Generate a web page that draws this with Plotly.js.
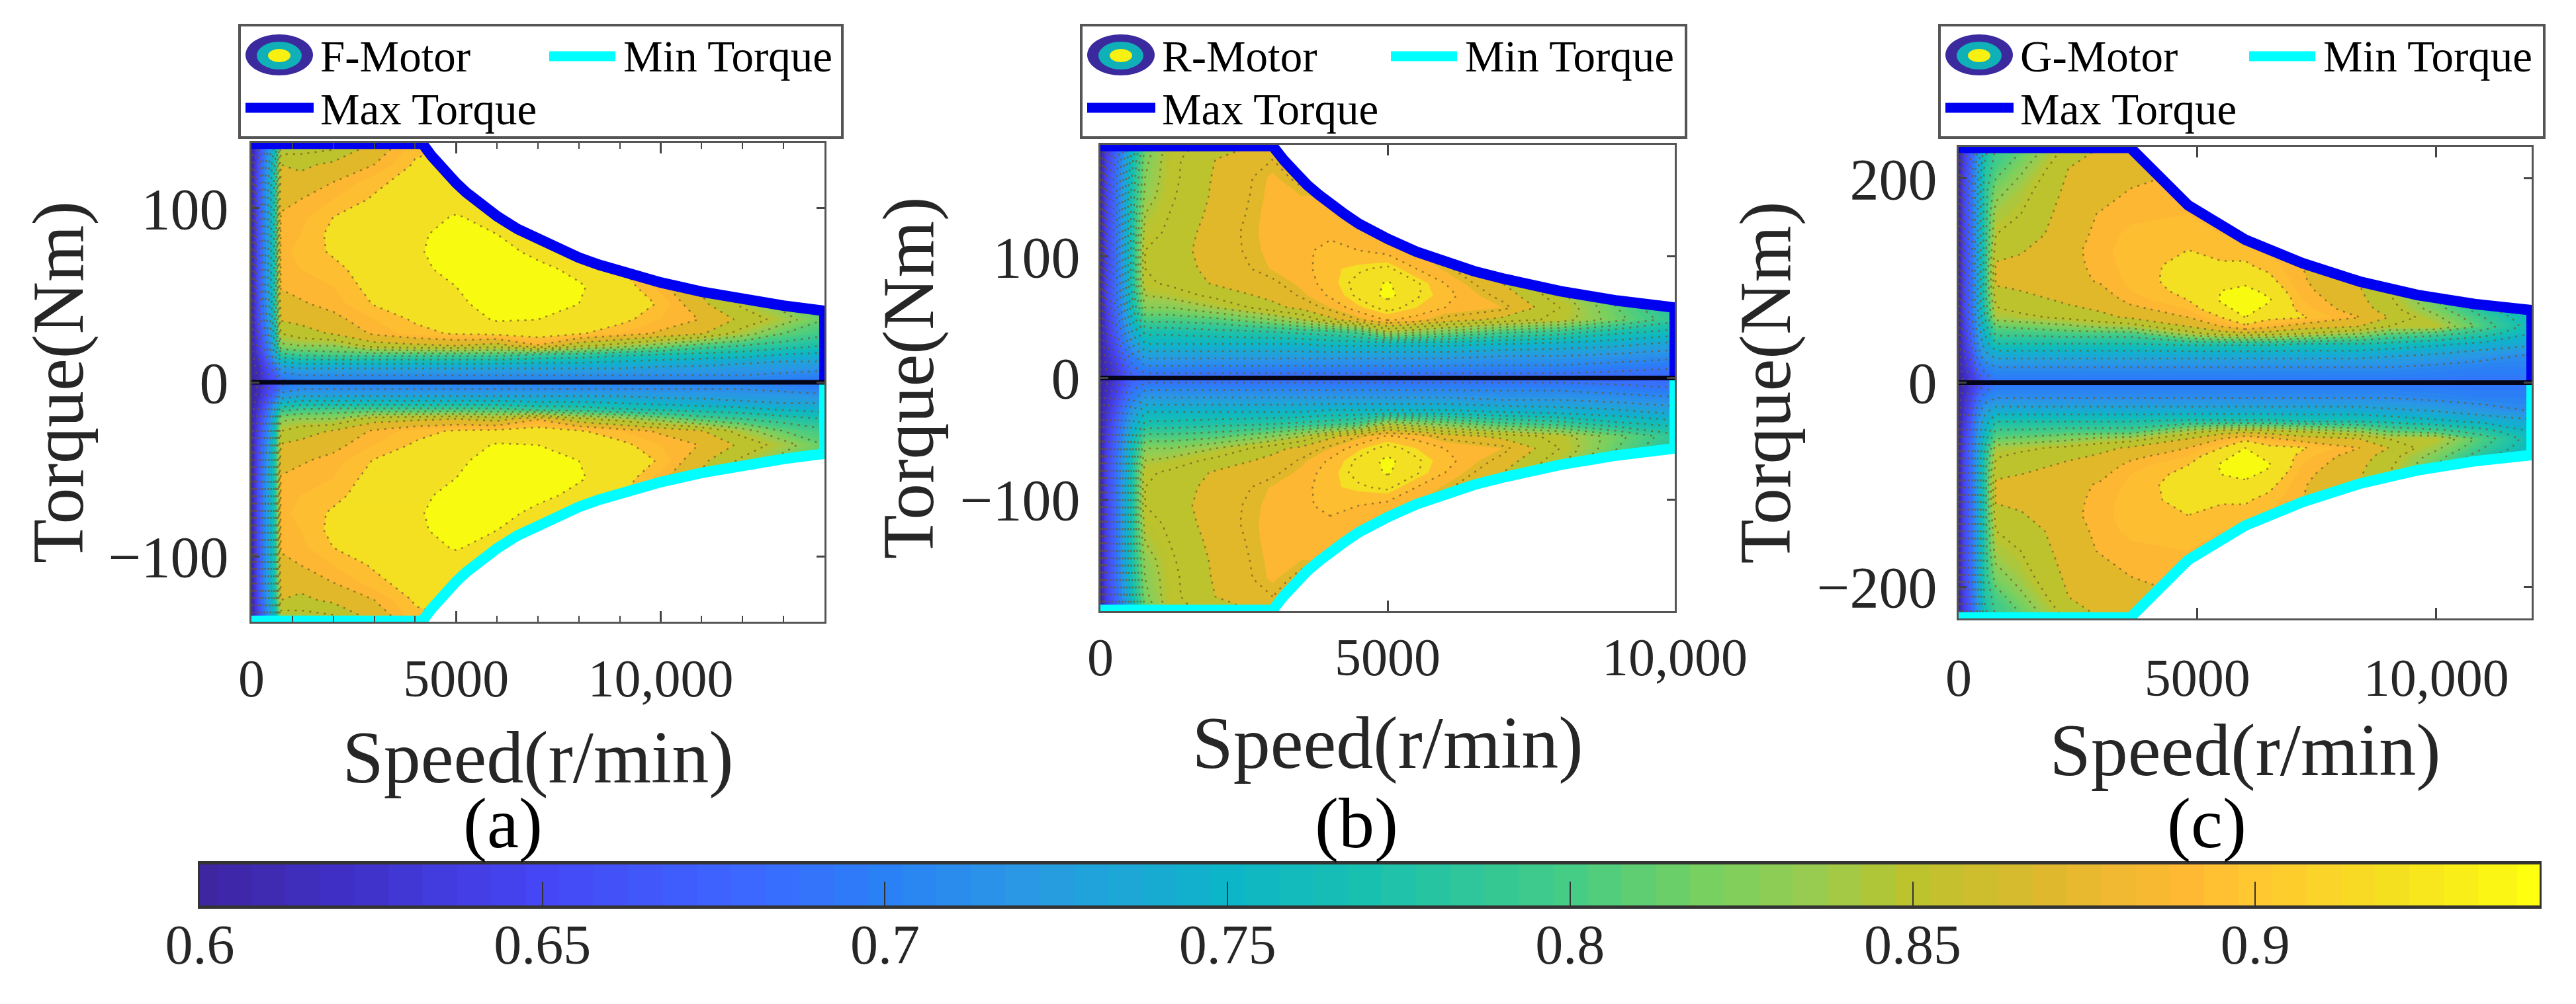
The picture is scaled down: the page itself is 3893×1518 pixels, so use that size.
<!DOCTYPE html>
<html><head><meta charset="utf-8">
<script src="https://cdn.plot.ly/plotly-3.0.1.min.js"></script>
<style>html,body{margin:0;padding:0;background:#fff}</style></head>
<body><div id="chart" style="width:3893px;height:1518px"></div>
<script>
// ---------- Panel (a) F-Motor ----------
const speedA=[0,150,300,450,600,720,1200,2000,3000,4000,5000,6000,7000,8000,9000,10000,11000,12000,13000,14000];
const torqueA=[0,4,8,12,16,21,28,36,45,55,65,75,85,95,105,115,125,137];
const effA=[
[.60,.60,.60,.60,.60,.60,.60,.60,.60,.60,.60,.60,.60,.60,.60,.60,.60,.60],
[.61,.612,.615,.62,.63,.635,.64,.65,.65,.655,.655,.655,.655,.655,.655,.655,.65,.64],
[.63,.635,.64,.65,.66,.67,.68,.69,.695,.70,.70,.70,.70,.70,.70,.70,.695,.68],
[.65,.655,.665,.68,.70,.71,.72,.73,.735,.74,.74,.74,.74,.74,.74,.74,.735,.72],
[.66,.67,.69,.72,.74,.76,.77,.78,.785,.785,.785,.785,.785,.785,.785,.785,.78,.76],
[.68,.70,.72,.75,.785,.825,.85,.872,.88,.892,.895,.897,.895,.892,.885,.877,.87,.83],
[.70,.71,.73,.76,.795,.83,.862,.875,.888,.895,.90,.903,.90,.897,.89,.878,.865,.835],
[.70,.71,.73,.76,.80,.83,.872,.885,.895,.90,.906,.912,.914,.91,.90,.89,.875,.84],
[.70,.71,.73,.76,.80,.86,.893,.90,.911,.916,.918,.918,.918,.915,.912,.906,.89,.872],
[.70,.71,.73,.76,.80,.865,.905,.912,.918,.922,.926,.928,.928,.925,.921,.917,.912,.905],
[.70,.71,.73,.76,.80,.87,.912,.92,.925,.93,.935,.937,.934,.931,.924,.92,.915,.91],
[.70,.71,.73,.76,.80,.86,.915,.932,.94,.94,.94,.937,.93,.925,.92,.92,.915,.91],
[.70,.71,.73,.755,.79,.888,.92,.93,.936,.94,.935,.925,.92,.92,.92,.92,.92,.92],
[.70,.71,.73,.755,.785,.855,.912,.922,.93,.932,.925,.92,.915,.915,.915,.915,.915,.915],
[.70,.71,.73,.75,.775,.84,.90,.915,.922,.92,.912,.905,.905,.905,.905,.905,.905,.905],
[.70,.71,.725,.745,.77,.82,.887,.90,.908,.895,.885,.88,.88,.88,.88,.88,.88,.88],
[.70,.71,.725,.74,.765,.80,.872,.889,.875,.865,.86,.86,.86,.86,.86,.86,.86,.86],
[.70,.71,.72,.735,.76,.79,.84,.865,.845,.84,.84,.84,.84,.84,.84,.84,.84,.84],
[.695,.705,.72,.73,.75,.78,.81,.84,.82,.81,.81,.81,.81,.81,.81,.81,.81,.81],
[.69,.70,.715,.73,.745,.77,.795,.81,.80,.80,.80,.80,.80,.80,.80,.80,.80,.80]
];
const maxSpeedA=[0,4180,4400,4600,4800,5000,5250,5500,5750,6000,6500,7000,7500,8000,8500,9000,10000,11000,12000,13000,14000];
const maxTorqueA=[137,137,130,124.5,119,114.5,109,104,99.6,95.4,88,82,76.4,71.6,67.4,63.6,57.3,52,47.7,44,41];

// ---------- Panel (b) R-Motor ----------
const speedB=[0,100,250,400,550,780,1200,2000,3000,3500,4000,4500,5000,5500,6000,7000,8000,9000,10000];
const torqueB=[0,8,18,28,38,48,58,68,78,90,105,120,135,150,165,180,191];
const effB=[
[.60,.60,.60,.60,.60,.60,.60,.60,.60,.60,.60,.60,.60,.60,.60,.60,.60],
[.61,.615,.62,.625,.63,.635,.64,.645,.645,.645,.645,.645,.645,.645,.645,.64,.635],
[.63,.635,.645,.655,.665,.67,.675,.68,.68,.68,.68,.68,.68,.68,.68,.675,.665],
[.65,.66,.675,.69,.70,.71,.715,.72,.72,.725,.725,.725,.725,.725,.72,.715,.70],
[.67,.685,.70,.72,.735,.75,.76,.765,.77,.77,.77,.77,.77,.77,.765,.76,.745],
[.68,.70,.725,.75,.77,.80,.825,.84,.852,.855,.855,.848,.84,.83,.825,.82,.81],
[.68,.70,.725,.75,.77,.80,.825,.845,.858,.862,.862,.858,.855,.852,.85,.85,.848],
[.68,.70,.725,.75,.775,.805,.84,.86,.872,.875,.878,.878,.875,.873,.872,.87,.862],
[.68,.70,.725,.75,.78,.825,.865,.875,.882,.891,.893,.894,.894,.893,.892,.885,.875],
[.68,.70,.725,.75,.785,.84,.875,.887,.893,.895,.897,.897,.895,.89,.88,.87,.86],
[.68,.70,.725,.755,.79,.865,.89,.902,.906,.908,.904,.897,.893,.89,.885,.88,.875],
[.68,.70,.725,.755,.80,.885,.908,.918,.92,.913,.90,.895,.89,.885,.88,.875,.87],
[.68,.70,.725,.755,.84,.902,.92,.935,.932,.918,.895,.89,.885,.88,.875,.87,.865],
[.68,.70,.725,.755,.83,.895,.91,.917,.917,.90,.89,.885,.88,.875,.87,.865,.86],
[.68,.70,.725,.755,.82,.88,.90,.905,.90,.888,.88,.875,.87,.87,.865,.86,.86],
[.68,.70,.72,.75,.80,.865,.89,.88,.87,.865,.865,.86,.86,.855,.855,.85,.85],
[.68,.70,.72,.745,.79,.85,.855,.845,.84,.835,.83,.83,.83,.83,.83,.83,.83],
[.68,.695,.715,.74,.77,.815,.81,.80,.79,.79,.79,.79,.79,.79,.79,.79,.79],
[.68,.69,.71,.73,.76,.785,.775,.77,.77,.77,.77,.77,.77,.77,.77,.77,.77]
];
const maxSpeedB=[0,3000,3200,3400,3600,3800,4000,4250,4500,4750,5000,5500,6000,6500,7000,7500,8000,9000,10000];
const maxTorqueB=[191,191,179,168.5,159,151,143,135,127,120.5,114.6,104,95.5,88,82,76.4,71.6,63.7,58];

// ---------- Panel (c) G-Motor ----------
const speedC=[0,100,250,400,550,780,1300,2300,3000,3600,4800,5500,6000,6500,7200,8400,9000,10000,11000,12000];
const torqueC=[0,15,28,38,48,55,64,72,81,90,100,115,130,145,165,190,210,232];
const effC=[
[.60,.60,.60,.60,.60,.60,.60,.60,.60,.60,.60,.60,.60,.60,.60,.60,.60,.60],
[.61,.62,.625,.63,.635,.64,.64,.645,.645,.645,.645,.645,.645,.645,.645,.645,.64,.635],
[.63,.645,.655,.665,.67,.675,.68,.68,.68,.68,.68,.68,.68,.68,.68,.68,.675,.665],
[.65,.68,.70,.71,.715,.72,.725,.73,.73,.73,.73,.73,.73,.73,.73,.73,.725,.71],
[.67,.70,.725,.74,.75,.76,.77,.775,.78,.78,.78,.78,.78,.78,.78,.78,.775,.76],
[.69,.71,.74,.77,.795,.81,.84,.848,.855,.868,.872,.873,.86,.85,.84,.82,.80,.79],
[.69,.71,.74,.77,.795,.815,.845,.855,.86,.87,.875,.875,.868,.858,.85,.84,.825,.805],
[.69,.71,.74,.77,.80,.825,.855,.865,.875,.88,.885,.885,.885,.882,.88,.875,.87,.855],
[.69,.71,.74,.77,.80,.835,.865,.873,.88,.887,.892,.895,.897,.895,.892,.88,.875,.87],
[.69,.71,.74,.77,.80,.84,.873,.885,.895,.90,.903,.905,.905,.903,.897,.89,.88,.875],
[.69,.71,.74,.775,.84,.87,.89,.90,.91,.915,.917,.914,.91,.905,.90,.895,.89,.885],
[.69,.71,.74,.775,.86,.89,.91,.925,.932,.93,.92,.912,.905,.90,.895,.89,.885,.88],
[.69,.71,.74,.775,.865,.905,.93,.936,.94,.935,.925,.912,.905,.90,.895,.895,.89,.885],
[.69,.71,.74,.775,.86,.895,.915,.925,.932,.925,.915,.905,.90,.895,.895,.89,.89,.885],
[.69,.71,.74,.77,.85,.88,.912,.905,.90,.895,.892,.89,.885,.885,.885,.885,.885,.885],
[.69,.71,.74,.77,.83,.87,.89,.88,.875,.872,.868,.86,.855,.855,.855,.855,.855,.855],
[.69,.71,.735,.765,.81,.85,.87,.86,.855,.85,.84,.83,.83,.83,.83,.83,.83,.83],
[.69,.705,.73,.755,.80,.85,.835,.82,.81,.80,.79,.79,.79,.79,.79,.79,.79,.79],
[.69,.70,.72,.745,.78,.80,.79,.775,.77,.77,.77,.77,.77,.77,.77,.77,.77,.77],
[.69,.70,.71,.735,.75,.76,.755,.75,.75,.75,.75,.75,.75,.75,.75,.75,.75,.75]
];
const maxSpeedC=[0,3600,4800,6000,7200,8400,9600,10800,12000];
const maxTorqueC=[230,230,174,140,117,99,86,77,71];

// ---------- Colour scale ----------
const barLevels=[.60,.62,.65,.68,.70,.72,.75,.77,.80,.82,.835,.85,.87,.89,.90,.92,.9415];
const barColors=['#3d26a0','#3f2fc4','#4546f5','#3c68ff','#2a80f5','#2a98e4','#0db5c8','#18c0b0','#45cc85','#78d060','#98cc50','#bcc32d','#e0b82e','#ffb933','#ffc730','#f5e020','#ffff10'];
const bandEdges=[.85,.87,.89,.90,.91,.93,.9415];
const bandColors=['#bcc32d','#e0b82a','#fdb733','#fdbe32','#f4e022','#f8fa10'];
const barTicks=[.65,.7,.75,.8,.85,.9];
const barTickText=['0.65','0.7','0.75','0.8','0.85','0.9'];
const barValueStart=.6, barValueEnd=.9415;
const barSamples=[.6,.605,.61,.615,.62,.625,.63,.635,.64,.645,.65,.655,.66,.665,.67,.675,.68,.685,.69,.695,.70,.705,.71,.715,.72,.725,.73,.735,.74,.745,.75,.755,.76,.765,.77,.775,.78,.785,.79,.795,.80,.805,.81,.815,.82,.825,.83,.835,.84,.845,.85,.855,.86,.865,.87,.875,.88,.885,.89,.895,.90,.905,.91,.915,.92,.925,.93,.935,.9415];

// ---------- Panels ----------
const W=3893,H=1518;
const X=p=>p/W, Y=p=>1-p/H;
const FONT='"Liberation Serif","Times New Roman",serif';
const norm=v=>(v-barValueStart)/(barValueEnd-barValueStart);
const smoothScale=barLevels.map((v,i)=>[norm(v),barColors[i]]);
const fieldScale=[];
barLevels.forEach((v,i)=>{ if(v<bandEdges[0]) fieldScale.push([norm(v),barColors[i]]); });
bandColors.forEach((c,i)=>{ fieldScale.push([norm(bandEdges[i]),c]); fieldScale.push([norm(bandEdges[i+1]),c]); });

const panels=[
 {id:'',name:'F-Motor',tag:'(a)',speed:speedA,torque:torqueA,eff:effA,maxS:maxSpeedA,maxT:maxTorqueA,
  xr:[0,14000],yr:137.5,dom:[380,1246,216,940],xt:[0,5000,10000],xl:['0','5000','10,000'],yt:[-100,0,100],yl:['\u2212100','0','100'],minor:1000,
  line:{start:.61,end:.93,size:.02},leg:[362,1273],tagX:760,tickGap:14,titleGap:36,yGap:14,yTitleGap:2},
 {id:'2',name:'R-Motor',tag:'(b)',speed:speedB,torque:torqueB,eff:effB,maxS:maxSpeedB,maxT:maxTorqueB,
  xr:[0,10000],yr:192,dom:[1663,2531,219,924],xt:[0,5000,10000],xl:['0','5000','10,000'],yt:[-100,0,100],yl:['\u2212100','0','100'],minor:null,
  line:{start:.60,end:.93,size:.015},leg:[1634,2548],tagX:2050,tickGap:-2,titleGap:46,yGap:10,yTitleGap:4},
 {id:'3',name:'G-Motor',tag:'(c)',speed:speedC,torque:torqueC,eff:effC,maxS:maxSpeedC,maxT:maxTorqueC,
  xr:[0,12000],yr:231,dom:[2960,3826,222,935],xt:[0,5000,10000],xl:['0','5000','10,000'],yt:[-200,0,200],yl:['\u2212200','0','200'],minor:null,
  line:{start:.61,end:.93,size:.02},leg:[2931,3845],tagX:3335,tickGap:18,titleGap:26,yGap:12,yTitleGap:4}
];

const traces=[],layout={width:W,height:H,margin:{l:0,r:0,t:0,b:0},paper_bgcolor:'#fff',plot_bgcolor:'#fff',
  font:{family:FONT,color:'#262626'},showlegend:false,shapes:[],annotations:[],hovermode:false};

panels.forEach(p=>{
  const xa='x'+p.id, ya='y'+p.id;
  const y=[...p.torque.slice(1).map(v=>-v).reverse(),...p.torque];
  const z=p.eff.map(c=>[...c.slice(1).reverse(),...c]);
  const base={x:p.speed,y:y,z:z,transpose:true,xaxis:xa,yaxis:ya,type:'contour',showscale:false,zmin:barValueStart,zmax:barValueEnd,hoverinfo:'skip'};
  traces.push(Object.assign({},base,{name:p.name,colorscale:fieldScale,autocontour:false,
    contours:{coloring:'fill',showlines:false,start:.6,end:.94,size:.005},line:{width:0,smoothing:0}}));
  traces.push(Object.assign({},base,{name:p.name+' contours',autocontour:false,colorscale:[[0,'#6e5a28'],[1,'#6e5a28']],
    contours:{coloring:'lines',start:p.line.start,end:p.line.end,size:p.line.size},line:{width:2.5,dash:'3px,8px',smoothing:0,color:'rgba(100,85,40,0.45)'},opacity:0.7}));
  // white region beyond the torque envelope
  const top=p.yr;
  traces.push({x:[...p.maxS,p.xr[1],0],y:[...p.maxT,top,top],mode:'none',fill:'toself',fillcolor:'#fff',xaxis:xa,yaxis:ya,hoverinfo:'skip',type:'scatter'});
  traces.push({x:[...p.maxS,p.xr[1],0],y:[...p.maxT.map(v=>-v),-top,-top],mode:'none',fill:'toself',fillcolor:'#fff',xaxis:xa,yaxis:ya,hoverinfo:'skip',type:'scatter'});
  // envelopes
  traces.push({name:'Min Torque',x:[...p.maxS,p.xr[1]],y:[...p.maxT.map(v=>-v),0],mode:'lines',line:{color:'#00ffff',width:16,shape:'linear'},cliponaxis:false,xaxis:xa,yaxis:ya,type:'scatter',hoverinfo:'skip'});
  traces.push({name:'Max Torque',x:[...p.maxS,p.xr[1]],y:[...p.maxT,0],mode:'lines',line:{color:'#0000f0',width:16,shape:'linear'},cliponaxis:false,xaxis:xa,yaxis:ya,type:'scatter',hoverinfo:'skip'});
  traces.push({name:'zero',x:[0,p.xr[1]],y:[0,0],mode:'lines',line:{color:'#05051a',width:7},cliponaxis:false,xaxis:xa,yaxis:ya,type:'scatter',hoverinfo:'skip'});

  const common={showgrid:false,zeroline:false,showline:true,linecolor:'#555',linewidth:3,mirror:'ticks',ticks:'inside',tickcolor:'#444',tickwidth:3,layer:'above traces',tickmode:'array'};
  layout['xaxis'+p.id]=Object.assign({},common,{domain:[X(p.dom[0]),X(p.dom[1])],anchor:ya,range:p.xr,tickvals:p.xt,ticktext:p.xl,ticklen:16,
    tickfont:{family:FONT,size:80,color:'#262626'},ticklabelstandoff:p.tickGap,
    title:{text:'Speed(r/min)',font:{family:FONT,size:112,color:'#262626'},standoff:p.titleGap},
    minor:p.minor?{dtick:p.minor,ticks:'inside',ticklen:9,tickcolor:'#444',tickwidth:2,showgrid:false}:undefined});
  layout['yaxis'+p.id]=Object.assign({},common,{domain:[Y(p.dom[3]),Y(p.dom[2])],anchor:xa,range:[-p.yr,p.yr],tickvals:p.yt,ticktext:p.yl,ticklen:12,
    tickfont:{family:FONT,size:88,color:'#262626'},ticklabelstandoff:p.yGap,
    title:{text:'Torque(Nm)',font:{family:FONT,size:110,color:'#262626'},standoff:p.yTitleGap}});

  // legend box
  const L=p.leg[0],R=p.leg[1],T=38,B=208;
  const rect=(x0,y0,x1,y1,o)=>Object.assign({xref:'paper',yref:'paper',x0:X(x0),y0:Y(y0),x1:X(x1),y1:Y(y1),layer:'above'},o);
  layout.shapes.push(rect(L,T,R,B,{type:'rect',fillcolor:'#fff',line:{color:'#555',width:4}}));
  layout.shapes.push(rect(L+9,52,L+111,114,{type:'circle',fillcolor:'#3b2a9e',line:{width:0}}));
  layout.shapes.push(rect(L+26,63,L+94,105,{type:'circle',fillcolor:'#10b0b8',line:{width:0}}));
  layout.shapes.push(rect(L+43,74,L+77,94,{type:'circle',fillcolor:'#f8f010',line:{width:0}}));
  layout.shapes.push(rect(L+468,85,L+568,85,{type:'line',line:{color:'#00ffff',width:15}}));
  layout.shapes.push(rect(L+9,163,L+112,163,{type:'line',line:{color:'#0000f0',width:15}}));
  const txt=(text,x,y,size,anchor)=>({text,x:X(x),y:Y(y),xref:'paper',yref:'paper',showarrow:false,xanchor:anchor||'left',yanchor:'middle',font:{family:FONT,size,color:'#000'}});
  layout.annotations.push(txt(p.name,L+120,85,67));
  layout.annotations.push(txt('Min Torque',L+578,85,67));
  layout.annotations.push(txt('Max Torque',L+120,165,67));
  layout.annotations.push(txt(p.tag,p.tagX,1245,108,'center'));
});

// colour bar: its own axis, driven by the same value scale
traces.push({type:'heatmap',x:barSamples,y:[0,1],z:[barSamples,barSamples],xaxis:'x4',yaxis:'y4',colorscale:smoothScale,zmin:barValueStart,zmax:barValueEnd,showscale:false,hoverinfo:'skip',zsmooth:false});
layout.xaxis4={domain:[X(302),X(3838)],anchor:'y4',range:[barValueStart,barValueEnd],tickmode:'array',tickvals:[barValueStart,...barTicks],ticktext:['0.6',...barTickText],
  ticks:'inside',ticklen:36,tickcolor:'#333',tickwidth:2,showline:true,linecolor:'#333',linewidth:5,mirror:true,showgrid:false,zeroline:false,layer:'above traces',
  tickfont:{family:FONT,size:84,color:'#262626'},ticklabelstandoff:-18};
layout.yaxis4={domain:[Y(1369),Y(1307)],anchor:'x4',range:[0,1],showticklabels:false,ticks:'',showline:true,linecolor:'#333',linewidth:3,mirror:true,showgrid:false,zeroline:false};

Plotly.newPlot('chart',traces,layout,{displayModeBar:false,staticPlot:true});
</script></body></html>
